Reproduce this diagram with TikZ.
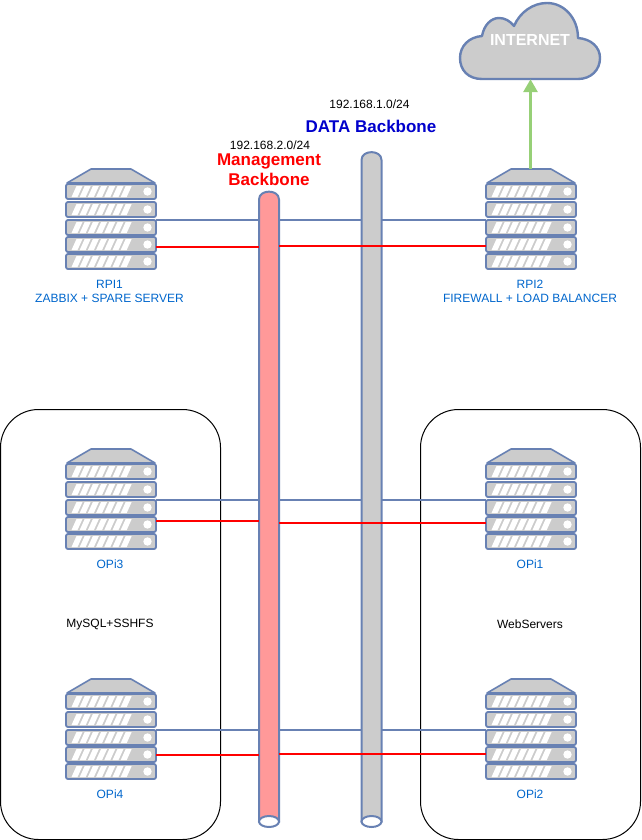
\documentclass[tikz,border=0pt]{standalone}
\usepackage{fontspec}
\setmainfont{Liberation Sans}
\usetikzlibrary{arrows.meta}
\definecolor{stk}{HTML}{6881B3}
\definecolor{gry}{HTML}{CCCCCC}
\definecolor{pnk}{HTML}{FF9999}
\definecolor{lbl}{HTML}{0066CC}
\definecolor{grn}{HTML}{97D077}
\tikzset{
  x=1pt,y=-1pt,
  unitbox/.style={draw=stk,fill=gry,line width=1.8pt,rounded corners=2pt,minimum width=90pt,minimum height=15pt,inner sep=0pt,outer sep=0pt},
  roofshape/.style={draw=stk,fill=gry,line width=1.6pt,line join=round},
  stripe/.style={fill=white,draw=none},
  lamp/.style={fill=white,draw=none},
  linkblue/.style={draw=stk,line width=2pt},
  linkred/.style={draw=red,line width=1.8pt},
  cyl/.style={draw=stk,line width=2pt},
  cylbox/.style={minimum width=20pt,inner sep=0pt,outer sep=0pt},
  groupbox/.style={draw=black,line width=1pt,rounded corners=38pt,fill=white,minimum width=220pt,minimum height=430pt,inner sep=0pt},
  small/.style={font=\fontsize{12}{14}\selectfont,align=center,inner sep=0pt},
  srvlabel/.style={small,text=lbl},
  title/.style={font=\bfseries\fontsize{17}{20}\selectfont,align=center,inner sep=0pt},
}
\newcommand{\serverbox}[3]{%
  % #1 name, #2 centre x, #3 top y
  \coordinate (#1top) at (#2-0.5,#3);
  \draw[roofshape] (#2-20,#3) -- (#2+20,#3) -- (#2+44,#3+14) -- (#2-44,#3+14) -- cycle;
  \foreach \k/\off in {1/22.5,2/40.5,3/58.5,4/75.5,5/92.5}{
    \node[unitbox] (#1u\k) at (#2,#3+\off) {};
    \foreach \i in {0,...,6}{
      \fill[stripe] (#2-39.5+\i*8.2,#3+\off+5.5) -- (#2-33.5+\i*8.2,#3+\off+5.5) -- (#2-28.5+\i*8.2,#3+\off-5.5) -- (#2-34.5+\i*8.2,#3+\off-5.5) -- cycle;
    }
    \fill[lamp] (#2+36.5,#3+\off) circle (4.2pt);
  }
}
\begin{document}
\begin{tikzpicture}
\useasboundingbox (0,0) rectangle (641,840);
% groups
\node[groupbox] (grpL) at (110.5,624.5) {};
\node[groupbox] (grpR) at (530.5,624.5) {};
\node[small] (mysql) at (110,624.5) {MySQL+SSHFS};
\node[small] (web) at (530,624.5) {WebServers};
% servers
\serverbox{rpia}{111}{169}
\serverbox{rpib}{531}{169}
\serverbox{opic}{111}{449}
\serverbox{opia}{531}{449}
\serverbox{opid}{111}{679}
\serverbox{opib}{531}{679}
% blue links behind the cylinders
\draw[linkblue] (rpiau3.north east) -- (rpibu3.north west);
\draw[linkblue] (opicu3.north east) -- (opiau3.north west);
\draw[linkblue] (opidu3.north east) -- (opibu3.north west);
% backbones
\node[cylbox,minimum height=675pt] (data) at (371.5,489) {};
\node[cylbox,minimum height=635pt] (mgmt) at (269,509) {};
\draw[cyl,fill=gry] (361.5,160) .. controls (361.5,149.5) and (381.5,149.5) .. (381.5,160) -- (381.5,821.5) -- (361.5,821.5) -- cycle;
\draw[cyl,fill=white] (371.5,821.5) ellipse (10pt and 5.5pt);
\draw[cyl,fill=pnk] (259,199.5) .. controls (259,189) and (279,189) .. (279,199.5) -- (279,821.5) -- (259,821.5) -- cycle;
\draw[cyl,fill=white] (269,821.5) ellipse (10pt and 5.5pt);
% red links
\draw[linkred] ([yshift=-2.5pt]rpiau4.east) -- ([yshift=-2.5pt]rpiau4.east -| mgmt.west);
\draw[linkred] ([yshift=-1.5pt]rpibu4.west) -- ([yshift=-1.5pt]rpibu4.west -| mgmt.east);
\draw[linkred] ([yshift=3.5pt]opicu4.east) -- ([yshift=3.5pt]opicu4.east -| mgmt.west);
\draw[linkred] ([yshift=1.5pt]opiau4.west) -- ([yshift=1.5pt]opiau4.west -| mgmt.east);
\draw[linkred] ([yshift=-0.5pt]opidu4.east) -- ([yshift=-0.5pt]opidu4.east -| mgmt.west);
\draw[linkred] ([yshift=0.5pt]opibu4.west) -- ([yshift=0.5pt]opibu4.west -| mgmt.east);
% cloud
\node[inner sep=0pt,minimum width=140pt,minimum height=76pt] (cloud) at (530.5,41) {};
\draw[draw=stk,fill=gry,line width=2.4pt,line join=round]
  (482,79) .. controls (468,79) and (460,70) .. (460,58)
  .. controls (460,46) and (469,37) .. (482,36)
  .. controls (484,25) and (491,18) .. (499,18)
  .. controls (505,18) and (510,21) .. (514,26)
  .. controls (520,12) and (533,3) .. (547,3)
  .. controls (564,3) and (578,18) .. (578,38)
  .. controls (591,39) and (600,47) .. (600,58)
  .. controls (600,70) and (591,79) .. (578,79) -- cycle;
\node[title,text=white,font=\bfseries\fontsize{16}{20}\selectfont] (inet) at (530,40) {INTERNET};
% uplink
\draw[draw=grn,line width=3pt,-{Triangle[length=13pt,width=14pt]}] (rpibtop) -- (cloud.south);
% labels
\node[small] (neta) at (369.5,104) {192.168.1.0/24};
\node[small] (netb) at (270,145) {192.168.2.0/24};
\node[title,text={rgb,255:red,0;green,0;blue,204}] (tdata) at (371,126.5) {DATA Backbone};
\node[title,text=red] (tmgmt) at (269,170) {Management\\Backbone};
\node[srvlabel] (la) at (109.5,291) {RPI1\\ZABBIX + SPARE SERVER};
\node[srvlabel] (lb) at (530,291) {RPI2\\FIREWALL + LOAD BALANCER};
\node[srvlabel] (lc) at (110,564) {OPi3};
\node[srvlabel] (ld) at (530,564) {OPi1};
\node[srvlabel] (le) at (110,794) {OPi4};
\node[srvlabel] (lf) at (530,794) {OPi2};
\end{tikzpicture}
\end{document}
